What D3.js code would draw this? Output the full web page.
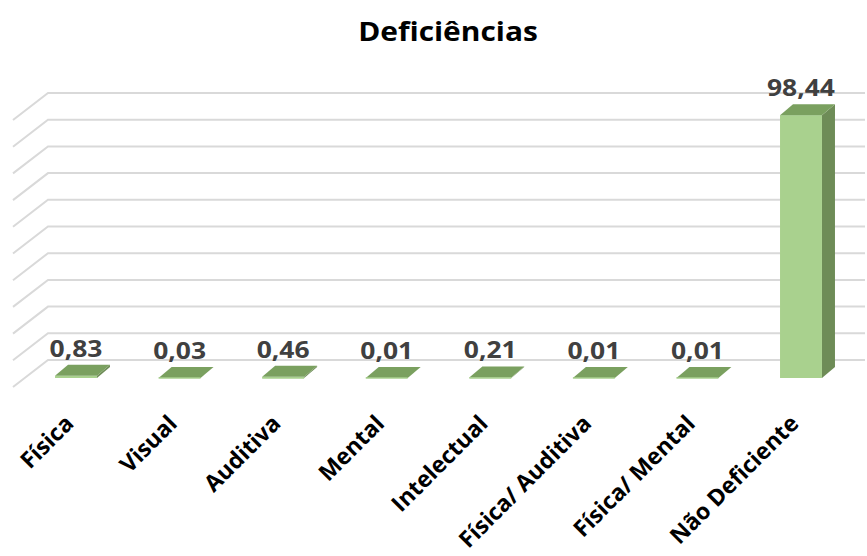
<!DOCTYPE html>
<html>
<head>
<meta charset="utf-8">
<script src="https://cdn.jsdelivr.net/npm/d3@7"></script>
<style>
  html, body { margin: 0; padding: 0; background: #fff; }
  svg { display: block; }
  text { font-family: "Open Sans", "Noto Sans", sans-serif; font-weight: bold; }
</style>
</head>
<body>
<svg id="chart" width="867" height="556"></svg>
<script>
const categories = ["Física", "Visual", "Auditiva", "Mental", "Intelectual", "Física/ Auditiva", "Física/ Mental", "Não Deficiente"];
const values = [0.83, 0.03, 0.46, 0.01, 0.21, 0.01, 0.01, 98.44];
const yTicks = [0, 10, 20, 30, 40, 50, 60, 70, 80, 90, 100];
const title = "Deficiências";

const svg = d3.select("#chart");
const stretch = 1.15;

// 3D geometry
const depthX = -35, depthY = 27;        // floor depth (back wall -> front edge)
const barDX = 13, barDY = -11;          // bar depth offset
const wallLeft = 48, wallRight = 865;

const yBack = d3.scaleLinear().domain([0, 100]).range([360, 93]);
const yFront = d3.scaleLinear().domain([0, 100]).range([378, 111]);
const x = d3.scalePoint().domain(categories).range([76, 801]);
const barW = x.step() * 0.405;

const fmt = d3.formatLocale({decimal: ",", thousands: ".", grouping: [3], currency: ["", ""]}).format(".2f");

// gridlines: back wall + left wall slants
const grid = svg.append("g").attr("stroke", "#d9d9d9").attr("stroke-width", 2).attr("fill", "none");
grid.selectAll("path").data(yTicks).join("path")
  .attr("d", d => `M${wallLeft + depthX},${yBack(d) + depthY} L${wallLeft},${yBack(d)} L${wallRight},${yBack(d)}`);

// bars
const bars = svg.append("g");
categories.forEach((c, i) => {
  const v = values[i];
  const cx = x(c);
  const x0 = cx - barW / 2, x1 = cx + barW / 2;
  const yb = yFront(0), yt = yFront(v);
  const g = bars.append("g");
  g.append("polygon")
    .attr("points", [[x1, yb], [x1 + barDX, yb + barDY], [x1 + barDX, yt + barDY], [x1, yt]].map(p => p.join(",")).join(" "))
    .attr("fill", "#6e8c57");
  g.append("rect")
    .attr("x", x0).attr("y", yt).attr("width", barW).attr("height", Math.max(yb - yt, 0))
    .attr("fill", "#a9d18e");
  g.append("polygon")
    .attr("points", [[x0, yt], [x1, yt], [x1 + barDX, yt + barDY], [x0 + barDX, yt + barDY]].map(p => p.join(",")).join(" "))
    .attr("fill", "#7aa05f");
  if (yb - yt < 2) {
    g.append("line").attr("x1", x0).attr("x2", x1).attr("y1", yb).attr("y2", yb)
      .attr("stroke", "#a9d18e").attr("stroke-width", 1.5);
  }
  // data label
  svg.append("text")
    .attr("transform", `translate(${cx},${yt + barDY - 8}) scale(${stretch},1)`)
    .attr("text-anchor", "middle")
    .attr("font-size", 23)
    .attr("fill", "#404040")
    .text(fmt(v));
  // category label
  svg.append("text")
    .attr("transform", `translate(${cx - 1},425) rotate(-45)`)
    .attr("text-anchor", "end")
    .attr("font-size", 23)
    .attr("fill", "#000")
    .text(c);
});

// title
svg.append("text")
  .attr("transform", `translate(448,40.5) scale(${stretch},1)`)
  .attr("text-anchor", "middle")
  .attr("font-size", 26)
  .attr("fill", "#000")
  .text(title);
</script>
</body>
</html>
